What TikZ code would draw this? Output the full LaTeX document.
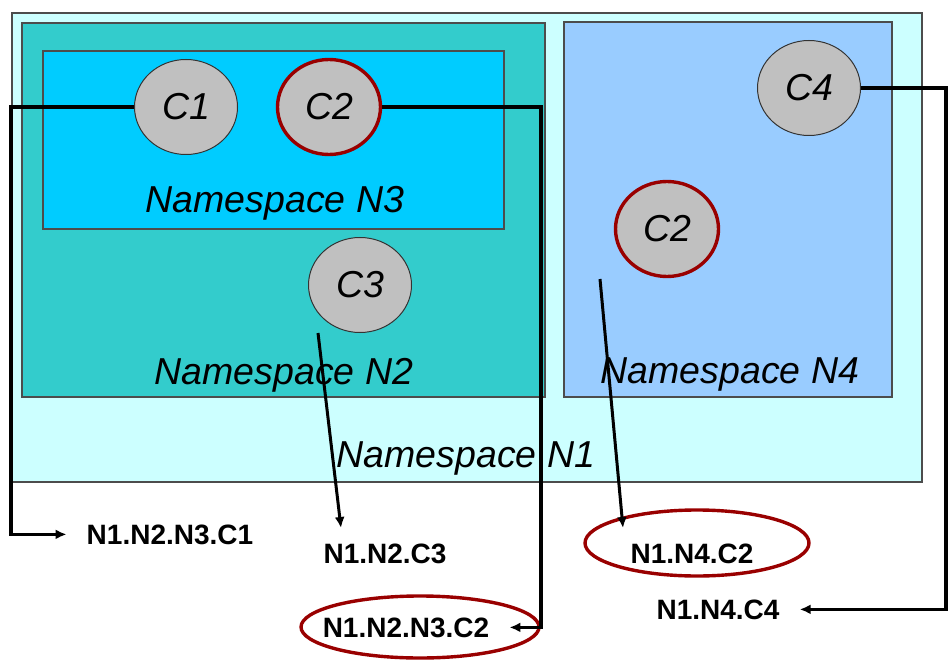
\documentclass[tikz,border=0pt]{standalone}
\usepackage{fontspec}
\setmainfont{Liberation Sans}
\usetikzlibrary{arrows.meta,shapes.geometric}
\definecolor{nsone}{HTML}{CCFFFF}
\definecolor{nstwo}{HTML}{33CCCC}
\definecolor{nsthree}{HTML}{00CCFF}
\definecolor{nsfour}{HTML}{99CCFF}
\definecolor{compgray}{HTML}{C0C0C0}
\definecolor{dupred}{HTML}{990000}

\begin{document}
\begin{tikzpicture}[x=1pt,y=-1pt,
	nsbox/.style={draw=black!70,line width=1.5pt},
	nsname/.style={anchor=base,inner sep=0pt,font=\fontsize{37.5}{40}\selectfont\itshape},
	comp/.style={ellipse,fill=compgray,draw=black!80,line width=1pt,minimum width=103pt,minimum height=95pt,inner sep=0pt,font=\fontsize{37.5}{40}\selectfont\itshape},
	dup/.style={comp,draw=dupred,line width=3.4pt},
	fullname/.style={anchor=base,inner xsep=20pt,font=\fontsize{28}{30}\selectfont\bfseries},
	ring/.style={ellipse,draw=dupred,line width=3.4pt,inner sep=0pt},
	link/.style={line width=3.6pt,line join=miter,-{Latex[length=11pt,width=10pt]}}]
	\useasboundingbox (0,0) rectangle (949,660);

	\filldraw[nsbox,fill=nsone] (12,13) rectangle (922,482);
	\filldraw[nsbox,fill=nstwo] (22,23) rectangle (545,397);
	\filldraw[nsbox,fill=nsthree] (43,51) rectangle (504,229);
	\filldraw[nsbox,fill=nsfour] (564,22) rectangle (892,397);

	\node[nsname] (n3name) at (275,213) {Namespace N3};
	\node[nsname] (n2name) at (284,384) {Namespace N2};
	\node[nsname] (n4name) at (730,383) {Namespace N4};
	\node[nsname] (n1name) at (466,467) {Namespace N1};

	\node[comp] (c1) at (186,107) {C1};
	\node[dup] (c2) at (329,107) {C2};
	\node[comp] (c3) at (360,285) {C3};
	\node[dup] (c2b) at (667,229) {C2};
	\node[comp] (c4) at (809,88) {C4};

	\node[fullname] (l1) at (170,544) {N1.N2.N3.C1};
	\node[fullname] (l3) at (385,563) {N1.N2.C3};
	\node[fullname] (l2) at (406,637) {N1.N2.N3.C2};
	\node[fullname] (l4) at (692,563) {N1.N4.C2};
	\node[fullname] (l5) at (718,619) {N1.N4.C4};

	\node[ring,minimum width=238pt,minimum height=62pt] (r2) at (420,627) {};
	\node[ring,minimum width=224pt,minimum height=66pt] (r4) at (697,543) {};

	\coordinate (lbus) at (11,107);
	\coordinate (rbus) at (541,107);
	\coordinate (c4bus) at (946,88);
	\coordinate (c3foot) at (318,333);
	\coordinate (c3tip) at (341,528);
	\coordinate (c2foot) at (600,279);
	\coordinate (c2tip) at (623,528);

	\draw[link] (c1.west) -- (lbus) |- (l1.west);
	\draw[link] (c2.east) -- (rbus) |- (l2.east);
	\draw[link] (c4.east) -- (c4bus) |- (l5.east);
	\draw[link,line width=3pt] (c3foot) -- (c3tip);
	\draw[link,line width=3pt] (c2foot) -- (c2tip);
\end{tikzpicture}
\end{document}
